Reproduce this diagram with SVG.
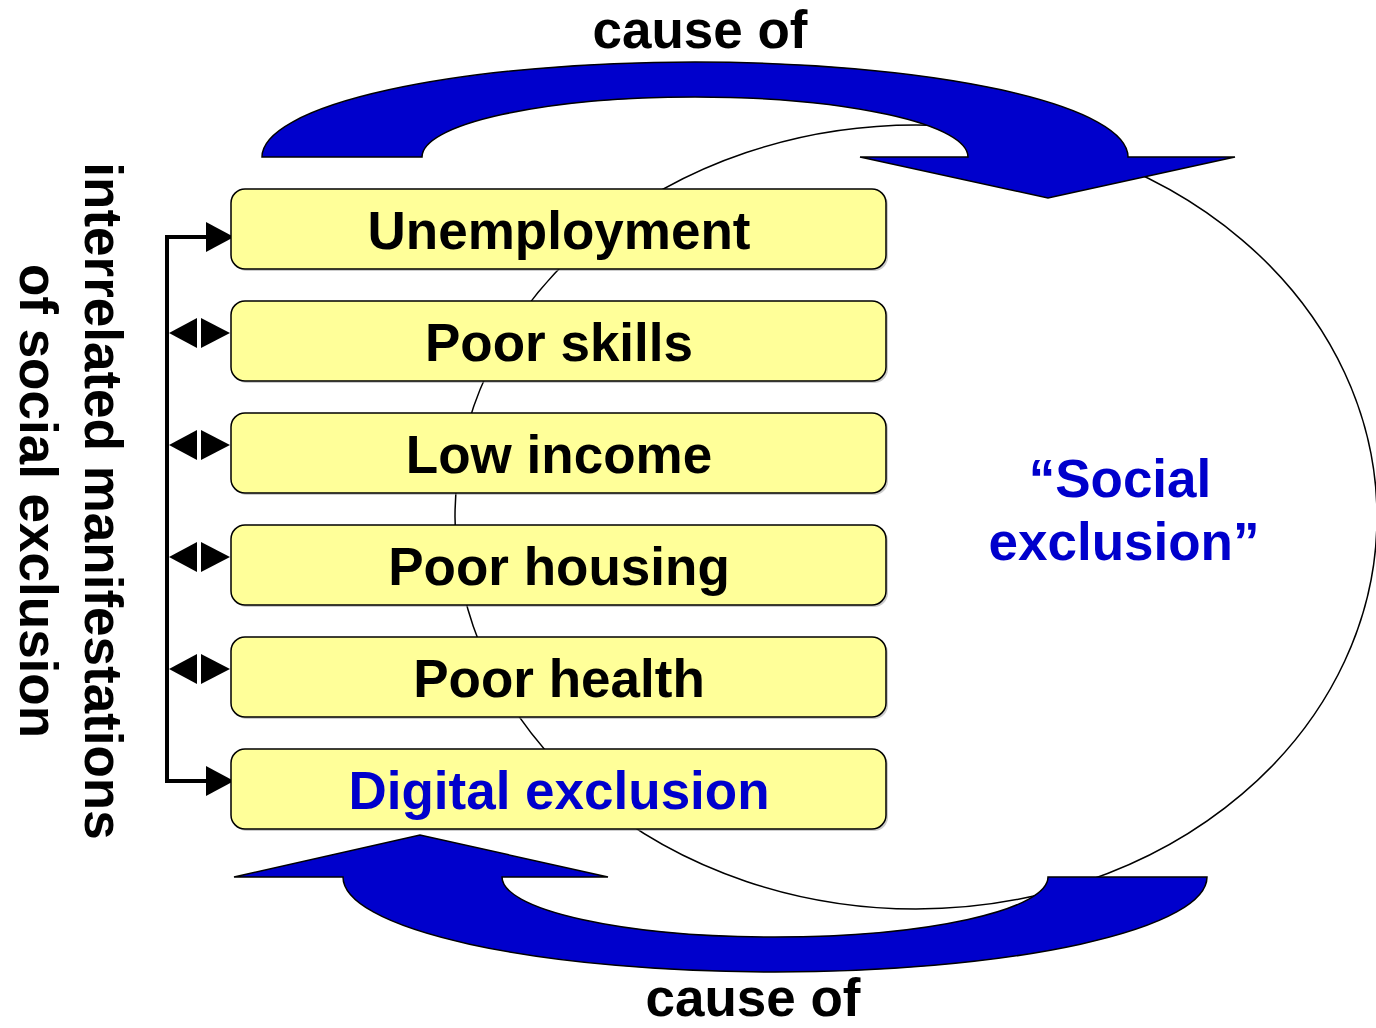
<svg xmlns="http://www.w3.org/2000/svg" width="1376" height="1028" viewBox="0 0 1376 1028">
<style>
.box{fill:#FFFF99;stroke:#000;stroke-width:1.5}
.shadow{fill:#999;opacity:0.5}
.lbl{font-family:"Liberation Sans",Arial,sans-serif;font-weight:bold;font-size:53px;text-anchor:middle;fill:#000}
.blue{fill:#0000CC}
.arrow{fill:#0000CC;stroke:#000;stroke-width:1.5;stroke-linejoin:miter}
.conn{fill:none;stroke:#000;stroke-width:4}
.head{fill:#000}
</style>
<rect width="1376" height="1028" fill="#fff"/>
<g id="ellipse">
<ellipse cx="916" cy="517" rx="461" ry="392" fill="none" stroke="#000" stroke-width="1.5"/>
</g>
<g id="cause-arrows">
<path class="arrow" d="M262,157 A433,95 0 0 1 1128,157 L1235,157 L1048,198 L860,157 L968,157 A273,60 0 0 0 422,157 Z"/>
<path class="arrow" d="M1207,877 A432,95 0 0 1 343,877 L234,877 L420,835 L608,877 L502,877 A273,60 0 0 0 1048,877 Z"/>
<text class="lbl" x="700" y="48">cause of</text>
<text class="lbl" x="753" y="1016">cause of</text>
</g>
<g id="social-exclusion">
<text class="lbl blue" x="1120" y="497">“Social</text>
<text class="lbl blue" x="1124" y="560">exclusion”</text>
</g>
<g id="side-label">
<text class="lbl" transform="translate(85,501) rotate(90)">interrelated manifestations</text>
<text class="lbl" transform="translate(20,501) rotate(90)">of social exclusion</text>
</g>
<g id="connectors">
<path class="conn" d="M208,237 L167,237 L167,781 L208,781"/>
<polygon class="head" points="206,222 234,237 206,252"/>
<polygon class="head" points="206,766 234,781 206,796"/>
<g id="double-arrows">
<polygon class="head" points="169,333 197,318 197,348"/>
<polygon class="head" points="201,318 230,333 201,348"/>
<polygon class="head" points="169,445 197,430 197,460"/>
<polygon class="head" points="201,430 230,445 201,460"/>
<polygon class="head" points="169,557 197,542 197,572"/>
<polygon class="head" points="201,542 230,557 201,572"/>
<polygon class="head" points="169,669 197,654 197,684"/>
<polygon class="head" points="201,654 230,669 201,684"/>
</g>
</g>
<g id="unemployment">
<rect class="shadow" x="233" y="191" width="655" height="80" rx="14"/>
<rect class="box" x="231" y="189" width="655" height="80" rx="14"/>
<text class="lbl" x="559" y="249">Unemployment</text>
</g>
<g id="poor-skills">
<rect class="shadow" x="233" y="303" width="655" height="80" rx="14"/>
<rect class="box" x="231" y="301" width="655" height="80" rx="14"/>
<text class="lbl" x="559" y="361">Poor skills</text>
</g>
<g id="low-income">
<rect class="shadow" x="233" y="415" width="655" height="80" rx="14"/>
<rect class="box" x="231" y="413" width="655" height="80" rx="14"/>
<text class="lbl" x="559" y="473">Low income</text>
</g>
<g id="poor-housing">
<rect class="shadow" x="233" y="527" width="655" height="80" rx="14"/>
<rect class="box" x="231" y="525" width="655" height="80" rx="14"/>
<text class="lbl" x="559" y="585">Poor housing</text>
</g>
<g id="poor-health">
<rect class="shadow" x="233" y="639" width="655" height="80" rx="14"/>
<rect class="box" x="231" y="637" width="655" height="80" rx="14"/>
<text class="lbl" x="559" y="697">Poor health</text>
</g>
<g id="digital-exclusion">
<rect class="shadow" x="233" y="751" width="655" height="80" rx="14"/>
<rect class="box" x="231" y="749" width="655" height="80" rx="14"/>
<text class="lbl blue" x="559" y="809">Digital exclusion</text>
</g>
</svg>
